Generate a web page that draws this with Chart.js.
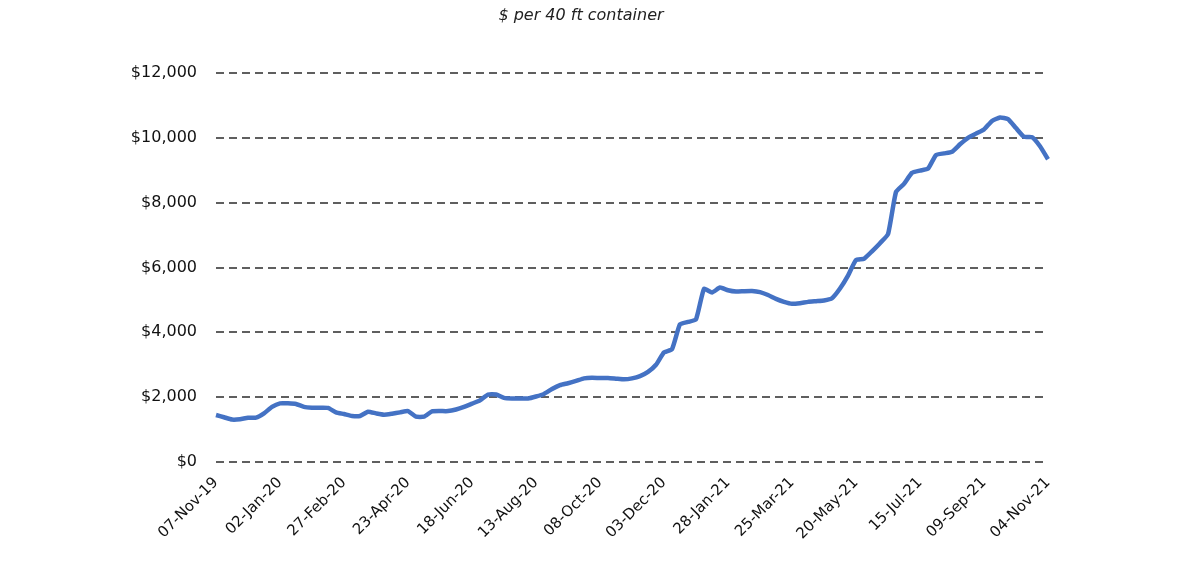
<!DOCTYPE html>
<html lang="en">
<head>
  <meta charset="UTF-8" />
  <title>Container freight rate</title>
  <script src="https://cdn.jsdelivr.net/npm/chart.js"></script>
  <style>
    html, body { margin: 0; padding: 0; background: #ffffff; overflow: hidden; }
    canvas { display: block; }
  </style>
</head>
<body>
  <canvas id="freightChart" width="1190" height="572"></canvas>

  <script>
    // weekly readings, 07-Nov-19 .. 04-Nov-21 (105 weeks)
    const tickLabels = ['07-Nov-19', '02-Jan-20', '27-Feb-20', '23-Apr-20', '18-Jun-20', '13-Aug-20', '08-Oct-20',
      '03-Dec-20', '28-Jan-21', '25-Mar-21', '20-May-21', '15-Jul-21', '09-Sep-21', '04-Nov-21'];
    const tickEvery = 8; // one label every 8 weeks

    const rates = [
      1450, 1380, 1310, 1320, 1367, 1367, 1500, 1700, 1810, 1810,
      1790, 1700, 1676, 1676, 1670, 1530, 1480, 1420, 1420, 1550,
      1500, 1460, 1490, 1530, 1570, 1400, 1400, 1560, 1570, 1570,
      1620, 1700, 1800, 1900, 2080, 2080, 1980, 1960, 1960, 1960,
      2020, 2100, 2250, 2370, 2430, 2500, 2580, 2600, 2590, 2590,
      2570, 2550, 2580, 2650, 2780, 3000, 3380, 3480, 4250, 4320,
      4400, 5340, 5230, 5380, 5300, 5260, 5270, 5275, 5240, 5150,
      5030, 4940, 4880, 4900, 4940, 4960, 4980, 5050, 5350, 5750,
      6230, 6270, 6500, 6750, 7030, 8330, 8580, 8920, 8990, 9050,
      9470, 9520, 9570, 9800, 10000, 10130, 10260, 10520, 10630, 10580,
      10300, 10030, 10020, 9740, 9340
    ];

    const yTicks = [0, 2000, 4000, 6000, 8000, 10000, 12000];
    const chartTitle = '$ per 40 ft container';

    const weeks = rates.map((v, i) => i);
    const FONT = "'DejaVu Sans', sans-serif";

    const titlePlugin = {
      id: 'topTitle',
      afterDraw(chart) {
        const ctx = chart.ctx;
        ctx.save();
        ctx.font = "italic 16px " + FONT;
        ctx.fillStyle = '#222';
        ctx.textAlign = 'center';
        ctx.textBaseline = 'middle';
        ctx.fillText(chartTitle, 581, 16);
        ctx.restore();
      }
    };

    new Chart('freightChart', {
      type: 'line',
      data: {
        labels: weeks,
        datasets: [{
          data: rates,
          borderColor: '#4472c4',
          borderWidth: 4.5,
          pointRadius: 0,
          tension: 0.15,
          fill: false
        }]
      },
      options: {
        responsive: false,
        animation: false,
        layout: { padding: { left: 0, right: 142, top: 73, bottom: 0 } },
        plugins: { legend: { display: false }, tooltip: { enabled: false } },
        scales: {
          x: {
            type: 'category',
            offset: false,
            grid: { display: false, drawTicks: false },
            border: { display: false },
            afterFit: s => { s.height = 110; },
            ticks: {
              autoSkip: false,
              maxRotation: 45,
              minRotation: 45,
              padding: 12,
              color: '#111',
              font: { family: FONT, size: 15 },
              callback: (v, i) => (i % tickEvery === 0 ? tickLabels[i / tickEvery] : '')
            }
          },
          y: {
            min: 0,
            max: 12000,
            afterFit: s => { s.width = 216; },
            afterBuildTicks: s => { s.ticks = yTicks.map(v => ({ value: v })); },
            grid: { color: '#5f5f5f', lineWidth: 2, drawTicks: false },
            border: { display: false, dash: [8, 5] },
            ticks: {
              padding: 19,
              color: '#111',
              font: { family: FONT, size: 16 },
              callback: v => '$' + v.toLocaleString('en-US')
            }
          }
        }
      },
      plugins: [titlePlugin]
    });
  </script>
</body>
</html>
